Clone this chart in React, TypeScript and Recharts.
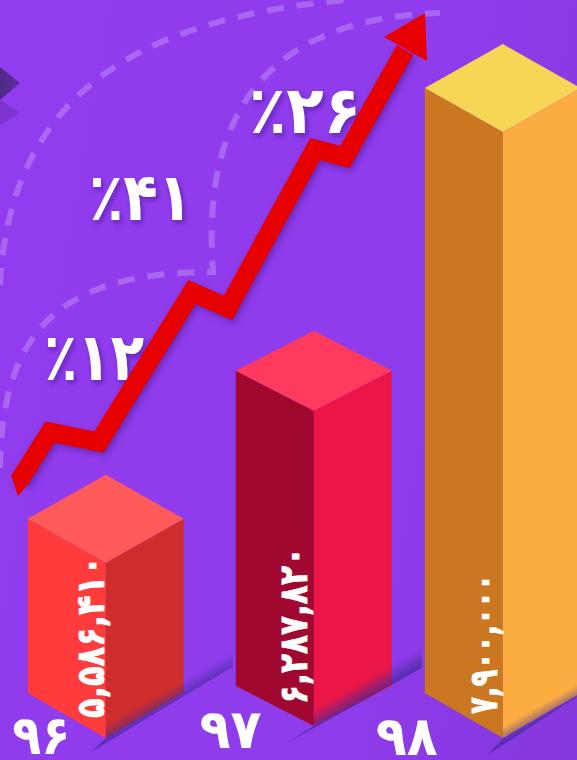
import React from "react";
import { ComposedChart, Bar, Line, XAxis, YAxis } from "recharts";

const years = ["۹۶", "۹۷", "۹۸"];
const amounts = [5586410, 6287820, 7900000];
const amountLabels = ["۵,۵۸۶,۴۱۰", "۶,۲۸۷,۸۲۰", "۷,۹۰۰,۰۰۰"];
const growthLabels = ["٪۱۲", "٪۴۱", "٪۲۶"];
const arrowX = [19, 50, 99, 192, 228, 315, 345, 405];
const arrowY = [481, 432, 442, 292, 308, 149, 157, 50];

const rows = years.map((year, i) => ({ year, amount: amounts[i], label: amountLabels[i] }));
const arrowRows = arrowX.map((x, i) => ({ x, y: arrowY[i] }));

const FONT = "'DejaVu Sans', sans-serif";
const STYLE = [
  { dx: 9.8, topNudge: 0, floor: 738, half: 44, rake: 45, top: "#ff5a5a", left: "#ff3b3b", right: "#cf2d2d",
    lx: -2, ly: 718, ll: 162, sx: -15, ex: 127, sy: 5, slope: 0.6 },
  { dx: 25.5, topNudge: -5, floor: 726, half: 40, rake: 40, top: "#ff3a5f", left: "#a0082f", right: "#ec1547",
    lx: -7, ly: 704, ll: 157, sx: -30, ex: 108, sy: 2, slope: 0.556 },
  { dx: 22.2, topNudge: 0, floor: 738, half: 44, rake: 45, top: "#f7d555", left: "#cb7722", right: "#fcad42",
    lx: -6, ly: 714, ll: 140, sx: -15, ex: 80, sy: 7, slope: 0.65 },
];
const TICK = [
  { dx: -55, y: 754, w: 58 },
  { dx: -58, y: 748, w: 62 },
  { dx: -74, y: 755, w: 62 },
];
const GROWTH_POS = [
  { x: 44, y: 380, w: 100 },
  { x: 89, y: 220, w: 103 },
  { x: 249, y: 133, w: 112 },
];

function IsoBar(props: any) {
  const { x, y, width, index } = props;
  const s = STYLE[index];
  const cx = x + width / 2 + s.dx;
  const hw = 78;
  const front = y + s.topNudge;
  const f = s.floor;
  const lineY = (px: number) => f + s.sy - (px - cx) * s.slope;
  const x0 = cx + s.sx;
  const x1 = cx + s.ex;
  const gid = `floorShade${index}`;
  return (
    <g>
      <polygon points={`${cx - hw},${front - s.half} ${cx},${front} ${cx},${f} ${cx - hw},${f - s.rake}`} fill={s.left} />
      <polygon points={`${cx + hw},${front - s.half} ${cx},${front} ${cx},${f} ${cx + hw},${f - s.rake}`} fill={s.right} />
      <polygon points={`${cx},${front - 2 * s.half} ${cx + hw},${front - s.half} ${cx},${front} ${cx - hw},${front - s.half}`} fill={s.top} />
      <defs>
        <linearGradient id={gid} gradientUnits="userSpaceOnUse" x1={cx} y1={lineY(cx)} x2={cx - 8} y2={lineY(cx) - 14}>
          <stop offset="0" stopColor="#40289a" stopOpacity={0.7} />
          <stop offset="1" stopColor="#40289a" stopOpacity={0} />
        </linearGradient>
      </defs>
      <polygon
        points={`${x0},${lineY(x0)} ${x1},${lineY(x1)} ${x1},${lineY(x1) - 20} ${cx},${lineY(cx) - 20} ${cx},${f}`}
        fill={`url(#${gid})`}
      />
      <text
        transform={`translate(${cx + s.lx},${s.ly}) rotate(-90)`}
        fontFamily={FONT}
        fontWeight={700}
        fontSize={39}
        fill="#fff"
        stroke="#fff"
        strokeWidth={0.8}
        textLength={s.ll}
        lengthAdjust="spacingAndGlyphs"
        direction="ltr"
      >
        {rows[index].label}
      </text>
    </g>
  );
}

function YearTick(props: any) {
  const { x, index, payload } = props;
  const t = TICK[index];
  return (
    <text
      x={x + t.dx}
      y={t.y}
      textAnchor="middle"
      fontFamily={FONT}
      fontWeight={700}
      fontSize={54}
      fill="#fff"
      direction="ltr"
      textLength={t.w}
      lengthAdjust="spacingAndGlyphs"
    >
      {payload.value}
    </text>
  );
}

function ArrowEnds(props: any) {
  const { cx, cy, index } = props;
  if (index === 0) {
    return <polygon key={index} points={`${cx - 7.6},${cy - 5} ${cx - 1},${cy + 15} ${cx + 7.6},${cy + 5}`} fill="#e60000" />;
  }
  if (index !== arrowRows.length - 1) return <g key={index} />;
  return (
    <polygon
      key={index}
      points={`${cx + 20},${cy - 37} ${cx - 21},${cy - 13} ${cx + 22},${cy + 11}`}
      fill="#e60000"
      stroke="none"
    />
  );
}

export default function App() {
  return (
    <div
      style={{
        position: "absolute",
        left: 0,
        top: 0,
        width: 577,
        height: 760,
        overflow: "hidden",
        background: "linear-gradient(100deg, #913cee 0%, #8f3cec 65%, #8538dc 100%)",
      }}
    >
      <ComposedChart width={577} height={760} data={rows} margin={{ top: 0, right: 0, bottom: -1, left: 0 }} barSize={156}>
        <defs>
          <filter id="soft" x="-20%" y="-20%" width="140%" height="140%">
            <feDropShadow dx="2" dy="3" stdDeviation="2.5" floodColor="#3a1680" floodOpacity="0.55" />
          </filter>
          <linearGradient id="decoA" x1="0" y1="0" x2="1" y2="0">
            <stop offset="0" stopColor="#4f2a85" />
            <stop offset="1" stopColor="#5f2ca0" />
          </linearGradient>
        </defs>
        <polygon points="0,67 20,83 0,100" fill="url(#decoA)" />
        <polygon points="0,100 20,113 0,125" fill="#7e35cf" />
        <g fill="none" stroke="#ffffff" strokeOpacity={0.22} strokeWidth={6} strokeDasharray="17 13">
          <path d="M0,285 C10,100 130,20 345,0" />
          <path d="M0,468 C2,330 60,272 213,272 L213,272 C200,100 280,18 440,13" />
        </g>
        <XAxis dataKey="year" axisLine={false} tickLine={false} height={1} tick={<YearTick />} interval={0} />
        <YAxis hide scale="log" domain={[4767000, 8786000]} allowDataOverflow />
        <XAxis xAxisId="pos" type="number" dataKey="x" domain={[0, 577]} hide />
        <YAxis yAxisId="pos" type="number" domain={[0, 760]} reversed hide />
        <Bar dataKey="amount" isAnimationActive={false} shape={<IsoBar />} />
        <Line
          data={arrowRows}
          xAxisId="pos"
          yAxisId="pos"
          dataKey="y"
          type="linear"
          stroke="#e60000"
          strokeWidth={19}
          strokeLinejoin="miter"
          strokeMiterlimit={8}
          dot={<ArrowEnds />}
          activeDot={false}
          isAnimationActive={false}
          style={{ filter: "drop-shadow(2px 3px 3px rgba(58,22,128,0.5))" }}
        />
        {growthLabels.map((t, i) => (
          <text
            key={t}
            x={GROWTH_POS[i].x}
            y={GROWTH_POS[i].y}
            fontFamily={FONT}
            fontWeight={700}
            fontSize={66}
            fill="#fff"
            textLength={GROWTH_POS[i].w}
            lengthAdjust="spacingAndGlyphs"
            direction="ltr"
            filter="url(#soft)"
          >
            {t}
          </text>
        ))}
      </ComposedChart>
    </div>
  );
}
